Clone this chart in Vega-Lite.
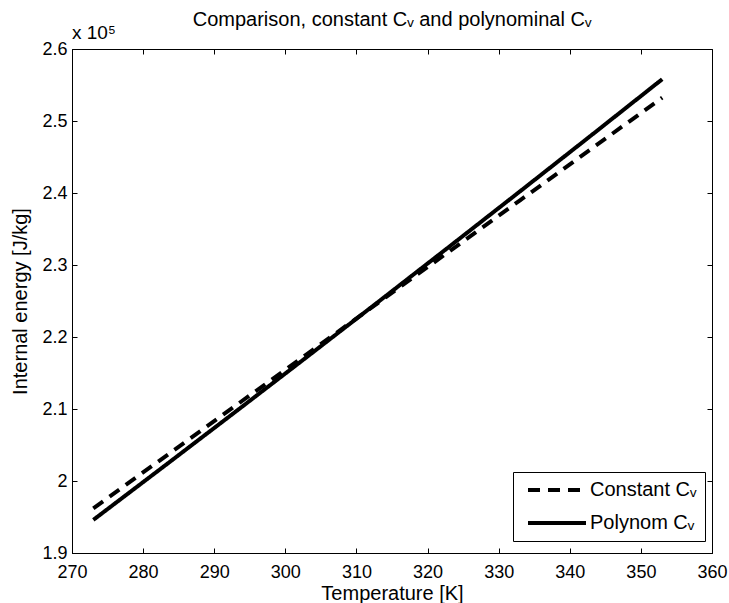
{
  "$schema": "https://vega.github.io/schema/vega-lite/v6.json",
  "width": 640,
  "height": 504,
  "autosize": {"type": "none"},
  "padding": {"left": 72, "top": 49, "right": 17, "bottom": 50},
  "background": "white",
  "title": {
    "text": "Comparison, constant Cᵥ and polynominal Cᵥ",
    "fontSize": 20,
    "font": "Liberation Sans",
    "fontWeight": "normal",
    "color": "black",
    "frame": "group",
    "baseline": "alphabetic",
    "offset": -22,
    "anchor": "middle"
  },
  "config": {
    "view": {"stroke": "black", "strokeWidth": 1},
    "axis": {
      "grid": false,
      "domainColor": "black",
      "domainWidth": 1,
      "tickColor": "black",
      "tickSize": -5,
      "labelColor": "black",
      "labelFont": "Liberation Sans",
      "labelFontSize": 18,
      "titleFont": "Liberation Sans",
      "titleFontSize": 20,
      "titleFontWeight": "normal",
      "titleColor": "black"
    },
    "legend": {
      "labelFont": "Liberation Sans",
      "labelFontSize": 20,
      "labelColor": "black"
    }
  },
  "data": {
    "values": [
      {"T": 273, "u": 196200, "series": "Constant Cᵥ"},
      {"T": 283, "u": 203330, "series": "Constant Cᵥ"},
      {"T": 293, "u": 210460, "series": "Constant Cᵥ"},
      {"T": 303, "u": 217590, "series": "Constant Cᵥ"},
      {"T": 313, "u": 224720, "series": "Constant Cᵥ"},
      {"T": 323, "u": 231850, "series": "Constant Cᵥ"},
      {"T": 333, "u": 238980, "series": "Constant Cᵥ"},
      {"T": 343, "u": 246110, "series": "Constant Cᵥ"},
      {"T": 353, "u": 253240, "series": "Constant Cᵥ"},
      {"T": 273, "u": 194600, "series": "Polynom Cᵥ"},
      {"T": 283, "u": 202088, "series": "Polynom Cᵥ"},
      {"T": 293, "u": 209623, "series": "Polynom Cᵥ"},
      {"T": 303, "u": 217204, "series": "Polynom Cᵥ"},
      {"T": 313, "u": 224831, "series": "Polynom Cᵥ"},
      {"T": 323, "u": 232505, "series": "Polynom Cᵥ"},
      {"T": 333, "u": 240225, "series": "Polynom Cᵥ"},
      {"T": 343, "u": 247992, "series": "Polynom Cᵥ"},
      {"T": 353, "u": 255805, "series": "Polynom Cᵥ"}
    ]
  },
  "layer": [
    {
      "mark": {"type": "line", "color": "black", "strokeWidth": 4, "strokeCap": "butt"},
      "encoding": {
        "x": {
          "field": "T", "type": "quantitative",
          "scale": {"domain": [270, 360], "nice": false, "zero": false},
          "axis": {
            "orient": "bottom",
            "values": [270, 280, 290, 300, 310, 320, 330, 340, 350, 360],
            "title": "Temperature [K]",
            "labelPadding": 15,
            "titleY": 40,
            "titleBaseline": "middle",
            "labelFlush": false
          }
        },
        "y": {
          "field": "u", "type": "quantitative",
          "scale": {"domain": [190000, 260000], "nice": false, "zero": false},
          "axis": {
            "orient": "left",
            "values": [190000, 200000, 210000, 220000, 230000, 240000, 250000, 260000],
            "labelExpr": "format(datum.value / 100000, '~g')",
            "title": "Internal energy [J/kg]",
            "labelPadding": 10,
            "titleX": -52,
            "titleY": 252,
            "titleAngle": -90,
            "titleAlign": "center",
            "titleBaseline": "middle",
            "labelFlush": false
          }
        },
        "strokeDash": {
          "field": "series", "type": "nominal",
          "scale": {"domain": ["Constant Cᵥ", "Polynom Cᵥ"], "range": [[12, 8], [1, 0]]},
          "legend": {
            "title": null,
            "orient": "none",
            "legendX": 441,
            "legendY": 423,
            "symbolType": "M-5.8,0H5.8",
            "symbolSize": 100,
            "symbolStrokeWidth": 4,
            "symbolStrokeColor": "black",
            "symbolOffset": 26,
            "strokeColor": "black",
            "fillColor": "white",
            "padding": 8,
            "rowPadding": 13,
            "labelOffset": 23
          }
        }
      }
    },
    {
      "mark": {"type": "line", "opacity": 0},
      "encoding": {
        "x": {
          "field": "T", "type": "quantitative",
          "axis": {"orient": "top", "values": [270, 280, 290, 300, 310, 320, 330, 340, 350, 360], "labels": false, "title": null, "domain": false}
        },
        "y": {
          "field": "u", "type": "quantitative",
          "axis": {"orient": "right", "values": [190000, 200000, 210000, 220000, 230000, 240000, 250000, 260000], "labels": false, "title": null, "domain": false}
        },
        "detail": {"field": "series"}
      }
    },
    {
      "data": {"values": [{"T": 270, "u": 260000, "label": "x 10⁵"}]},
      "mark": {"type": "text", "align": "left", "baseline": "middle", "dy": -16, "font": "Liberation Sans", "fontSize": 19, "color": "black"},
      "encoding": {
        "x": {"field": "T", "type": "quantitative", "axis": null},
        "y": {"field": "u", "type": "quantitative", "axis": null},
        "text": {"field": "label"}
      }
    }
  ],
  "resolve": {"axis": {"x": "independent", "y": "independent"}}
}
